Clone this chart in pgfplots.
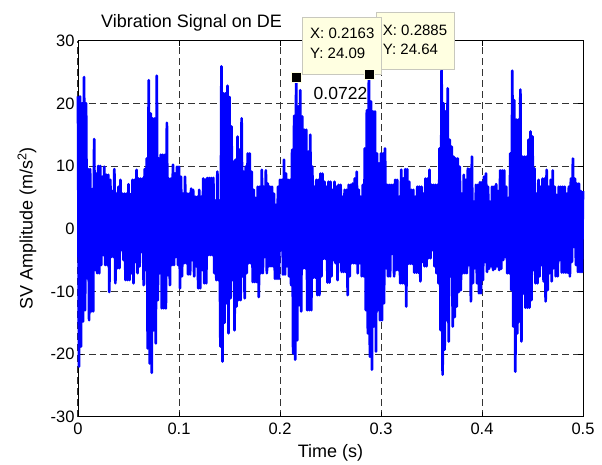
\documentclass[border=0pt]{standalone}
\usepackage{fontspec}
\setmainfont{Liberation Sans}
\usepackage{pgfplots}
\usepackage{pgfplotstable}
\pgfplotsset{compat=1.18}
\definecolor{tipbg}{RGB}{255,255,225}
\definecolor{tipedge}{RGB}{200,200,190}
\pgfplotstableread[row sep=\\]{
t v\\
0.000 21.1\\ 0.001 -22\\ 0.002 21.1\\ 0.003 -18.8\\ 0.004 20\\ 0.005 -14.8\\ 0.006 24.2\\ 0.007 -13\\ 0.008 20\\ 0.009 -7.9\\
0.010 9.5\\ 0.011 -14.6\\ 0.012 9.5\\ 0.013 -13.2\\ 0.014 6.3\\ 0.015 -13.2\\ 0.016 14.3\\ 0.017 -6.6\\ 0.018 8.8\\ 0.019 -7.1\\
0.020 10\\ 0.021 -7.1\\ 0.022 10\\ 0.023 -5.8\\ 0.024 8.3\\ 0.025 -4.2\\ 0.026 9.9\\ 0.027 -5.8\\ 0.028 8.6\\ 0.029 -5.8\\
0.030 8.6\\ 0.031 -10.1\\ 0.032 7.8\\ 0.033 -4.5\\ 0.034 6\\ 0.035 -4.5\\ 0.036 9.5\\ 0.037 -8.7\\ 0.038 5.6\\ 0.039 -6.3\\
0.040 6.7\\ 0.041 -6.3\\ 0.042 7.8\\ 0.043 -3.4\\ 0.044 5.6\\ 0.045 -5\\ 0.046 5.6\\ 0.047 -8.2\\ 0.048 5.6\\ 0.049 -8.2\\
0.050 7.1\\ 0.051 -8.2\\ 0.052 5.5\\ 0.053 -7.1\\ 0.054 7.8\\ 0.055 -8.7\\ 0.056 7.8\\ 0.057 -5.3\\ 0.058 9.4\\ 0.059 -7.1\\
0.060 8\\ 0.061 -6\\ 0.062 8\\ 0.063 -3.7\\ 0.064 8\\ 0.065 -9\\ 0.066 9.5\\ 0.067 -6.6\\ 0.068 11.2\\ 0.069 -19.1\\
0.070 23.7\\ 0.071 -21.5\\ 0.072 18.4\\ 0.073 -23\\ 0.074 17.6\\ 0.075 -16.2\\ 0.076 17.6\\ 0.077 -18.3\\ 0.078 24.4\\ 0.079 -11.4\\
0.080 11.2\\ 0.081 -7.1\\ 0.082 11.8\\ 0.083 -12.7\\ 0.084 11.8\\ 0.085 -12.7\\ 0.086 11.8\\ 0.087 -12.7\\ 0.088 16.9\\ 0.089 -7.4\\
0.090 8\\ 0.091 -9\\ 0.092 8\\ 0.093 -5.8\\ 0.094 10.2\\ 0.095 -5.8\\ 0.096 8.8\\ 0.097 -4.5\\ 0.098 9.9\\ 0.099 -5.8\\
0.100 9.9\\ 0.101 -9.5\\ 0.102 8.3\\ 0.103 -7.6\\ 0.104 5.6\\ 0.105 -5.5\\ 0.106 8.3\\ 0.107 -5.5\\ 0.108 5.6\\ 0.109 -7.3\\
0.110 5.6\\ 0.111 -7.3\\ 0.112 6.4\\ 0.113 -5\\ 0.114 6.2\\ 0.115 -7.6\\ 0.116 5.1\\ 0.117 -6\\ 0.118 5.1\\ 0.119 -9.5\\
0.120 6.2\\ 0.121 -9.5\\ 0.122 5.1\\ 0.123 -6.6\\ 0.124 8\\ 0.125 -8.7\\ 0.126 7.8\\ 0.127 -8.7\\ 0.128 8.1\\ 0.129 -4.2\\
0.130 8.1\\ 0.131 -4.2\\ 0.132 8.1\\ 0.133 -4.2\\ 0.134 8.1\\ 0.135 -7.1\\ 0.136 4.5\\ 0.137 -8.2\\ 0.138 9.1\\ 0.139 -8.2\\
0.140 4.5\\ 0.141 -18.8\\ 0.142 25.9\\ 0.143 -21.2\\ 0.144 21.6\\ 0.145 -15\\ 0.146 21.6\\ 0.147 -11.9\\ 0.148 22.8\\ 0.149 -16.7\\
0.150 21\\ 0.151 -11.1\\ 0.152 16.3\\ 0.153 -8.2\\ 0.154 10.7\\ 0.155 -16.2\\ 0.156 11\\ 0.157 -12.4\\ 0.158 14.7\\ 0.159 -11.4\\
0.160 12.6\\ 0.161 -11.4\\ 0.162 17.6\\ 0.163 -7.6\\ 0.164 9.1\\ 0.165 -11.1\\ 0.166 9.9\\ 0.167 -7.1\\ 0.168 12\\ 0.169 -5.5\\
0.170 12\\ 0.171 -5.5\\ 0.172 9.1\\ 0.173 -8.5\\ 0.174 6.2\\ 0.175 -8.5\\ 0.176 4.9\\ 0.177 -8.5\\ 0.178 6.7\\ 0.179 -10.9\\
0.180 6.7\\ 0.181 -7.1\\ 0.182 9.4\\ 0.183 -7.1\\ 0.184 6.7\\ 0.185 -4.5\\ 0.186 9.3\\ 0.187 -7.1\\ 0.188 7.2\\ 0.189 -6\\
0.190 6.7\\ 0.191 -6\\ 0.192 6.7\\ 0.193 -6\\ 0.194 5.6\\ 0.195 -8\\ 0.196 3.8\\ 0.197 -8\\ 0.198 6.7\\ 0.199 -8\\
0.200 7.8\\ 0.201 -3.4\\ 0.202 7.8\\ 0.203 -7.3\\ 0.204 11\\ 0.205 -7.3\\ 0.206 8.8\\ 0.207 -6\\ 0.208 7.8\\ 0.209 -7.6\\
0.210 7.8\\ 0.211 -9\\ 0.212 12.6\\ 0.213 -19.9\\ 0.214 18\\ 0.215 -20.9\\ 0.216 24.09\\ 0.217 -17.8\\ 0.218 19.5\\ 0.219 -12.2\\
0.220 22.1\\ 0.221 -13.2\\ 0.222 17.9\\ 0.223 -6.3\\ 0.224 15.8\\ 0.225 -6.3\\ 0.226 15.8\\ 0.227 -13\\ 0.228 12.3\\ 0.229 -13\\
0.230 15\\ 0.231 -13\\ 0.232 9.9\\ 0.233 -7.8\\ 0.234 6.7\\ 0.235 -7.8\\ 0.236 7.8\\ 0.237 -10.6\\ 0.238 7.8\\ 0.239 -10.6\\
0.240 8.8\\ 0.241 -7.6\\ 0.242 8.8\\ 0.243 -4.8\\ 0.244 7.5\\ 0.245 -4.8\\ 0.246 6.7\\ 0.247 -8.6\\ 0.248 7.5\\ 0.249 -8.6\\
0.250 7.5\\ 0.251 -7.6\\ 0.252 6.2\\ 0.253 -5\\ 0.254 7.5\\ 0.255 -5.5\\ 0.256 6.7\\ 0.257 -8.2\\ 0.258 7\\ 0.259 -5.3\\
0.260 7\\ 0.261 -6.9\\ 0.262 5.1\\ 0.263 -6.9\\ 0.264 6.2\\ 0.265 -6.9\\ 0.266 6.2\\ 0.267 -10.6\\ 0.268 7\\ 0.269 -7.6\\
0.270 7\\ 0.271 -5.5\\ 0.272 7.2\\ 0.273 -5.5\\ 0.274 8\\ 0.275 -5.5\\ 0.276 9.1\\ 0.277 -7.1\\ 0.278 6.2\\ 0.279 -5.5\\
0.280 5.1\\ 0.281 -7.6\\ 0.282 7\\ 0.283 -7.6\\ 0.284 12.8\\ 0.285 -13\\ 0.286 18.9\\ 0.287 -16.7\\ 0.288 24.64\\ 0.289 -20.4\\
0.290 20.3\\ 0.291 -22.5\\ 0.292 18.7\\ 0.293 -15.6\\ 0.294 18.7\\ 0.295 -19.6\\ 0.296 12\\ 0.297 -13\\ 0.298 10.4\\ 0.299 -14.6\\
0.300 12\\ 0.301 -14.6\\ 0.302 12\\ 0.303 -11.9\\ 0.304 12.8\\ 0.305 -6.3\\ 0.306 7\\ 0.307 -7.6\\ 0.308 7\\ 0.309 -7.6\\
0.310 7\\ 0.311 -4\\ 0.312 7\\ 0.313 -7.6\\ 0.314 7.8\\ 0.315 -6.6\\ 0.316 7.8\\ 0.317 -6.6\\ 0.318 5.1\\ 0.319 -8.7\\
0.320 9.4\\ 0.321 -8.7\\ 0.322 8\\ 0.323 -8.7\\ 0.324 9.5\\ 0.325 -12.4\\ 0.326 9.5\\ 0.327 -5.6\\ 0.328 7.5\\ 0.329 -5.6\\
0.330 6.2\\ 0.331 -5.6\\ 0.332 6.2\\ 0.333 -7\\ 0.334 5.1\\ 0.335 -7\\ 0.336 6.7\\ 0.337 -7\\ 0.338 6.7\\ 0.339 -8.4\\
0.340 6.7\\ 0.341 -5.3\\ 0.342 5.6\\ 0.343 -6\\ 0.344 8\\ 0.345 -6\\ 0.346 8\\ 0.347 -4.7\\ 0.348 9.4\\ 0.349 -4.7\\
0.350 7\\ 0.351 -3.4\\ 0.352 7\\ 0.353 -6\\ 0.354 7\\ 0.355 -7.1\\ 0.356 7\\ 0.357 -8.7\\ 0.358 12.8\\ 0.359 -16.2\\
0.360 25.3\\ 0.361 -23.3\\ 0.362 20\\ 0.363 -19.3\\ 0.364 18.7\\ 0.365 -14.6\\ 0.366 22.4\\ 0.367 -18\\ 0.368 14.2\\ 0.369 -7.6\\
0.370 13.1\\ 0.371 -15.6\\ 0.372 11.5\\ 0.373 -14.1\\ 0.374 11.2\\ 0.375 -12.4\\ 0.376 11.2\\ 0.377 -10.1\\ 0.378 9.9\\ 0.379 -9.8\\
0.380 5.6\\ 0.381 -7.1\\ 0.382 8.6\\ 0.383 -7.1\\ 0.384 7.8\\ 0.385 -7.1\\ 0.386 9.6\\ 0.387 -5.8\\ 0.388 9.5\\ 0.389 -11.6\\
0.390 11.5\\ 0.391 -8.7\\ 0.392 4.3\\ 0.393 -6.3\\ 0.394 7\\ 0.395 -8.7\\ 0.396 7\\ 0.397 -10.3\\ 0.398 7.4\\ 0.399 -10.3\\
0.400 7.4\\ 0.401 -8.2\\ 0.402 8.3\\ 0.403 -5.3\\ 0.404 8.8\\ 0.405 -6.9\\ 0.406 6.7\\ 0.407 -6.4\\ 0.408 4.3\\ 0.409 -6\\
0.410 6.7\\ 0.411 -6.6\\ 0.412 6.7\\ 0.413 -6.4\\ 0.414 7.1\\ 0.415 -6\\ 0.416 6\\ 0.417 -6.6\\ 0.418 9.3\\ 0.419 -6.4\\
0.420 9.3\\ 0.421 -5\\ 0.422 9.3\\ 0.423 -4.5\\ 0.424 6.7\\ 0.425 -7.1\\ 0.426 4.9\\ 0.427 -7.1\\ 0.428 12\\ 0.429 -9.8\\
0.430 25.2\\ 0.431 -15.6\\ 0.432 20.5\\ 0.433 -22.8\\ 0.434 17.4\\ 0.435 -16.7\\ 0.436 17.4\\ 0.437 -14.8\\ 0.438 22.2\\ 0.439 -18\\
0.440 11.5\\ 0.441 -10.3\\ 0.442 11.5\\ 0.443 -12.6\\ 0.444 11.5\\ 0.445 -12.6\\ 0.446 14.2\\ 0.447 -12.6\\ 0.448 15.5\\ 0.449 -11.4\\
0.450 14.7\\ 0.451 -6.6\\ 0.452 9.6\\ 0.453 -8.7\\ 0.454 5.6\\ 0.455 -8.7\\ 0.456 7.8\\ 0.457 -7.6\\ 0.458 6.7\\ 0.459 -5.8\\
0.460 8\\ 0.461 -8.4\\ 0.462 8\\ 0.463 -11.6\\ 0.464 9.4\\ 0.465 -9.8\\ 0.466 6.7\\ 0.467 -7.1\\ 0.468 7.8\\ 0.469 -8.4\\
0.470 9.3\\ 0.471 -6.3\\ 0.472 6.7\\ 0.473 -7.6\\ 0.474 5.4\\ 0.475 -7.6\\ 0.476 6.7\\ 0.477 -5\\ 0.478 6.7\\ 0.479 -7\\
0.480 6.7\\ 0.481 -7\\ 0.482 6.7\\ 0.483 -7\\ 0.484 5.6\\ 0.485 -7\\ 0.486 6.7\\ 0.487 -7.6\\ 0.488 8\\ 0.489 -5.3\\
0.490 11.2\\ 0.491 -2.9\\ 0.492 8\\ 0.493 -5.8\\ 0.494 7.2\\ 0.495 -6.9\\ 0.496 7.2\\ 0.497 -6.9\\ 0.498 6\\ 0.499 -6.9\\ 0.500 6\\
}\sig

\begin{document}
\begin{tikzpicture}
\useasboundingbox (0,0) rectangle (602pt,464pt);
\begin{axis}[
  at={(78pt,47.3pt)}, anchor=south west,
  scale only axis, width=505pt, height=376pt,
  xmin=0, xmax=0.5, ymin=-30, ymax=30,
  clip=false,
  xtick={0,0.1,0.2,0.3,0.4,0.5}, xticklabels={0,0.1,0.2,0.3,0.4,0.5},
  ytick={-30,-20,-10,0,10,20,30}, yticklabels={-30,-20,-10,0,10,20,30},
  grid=major,
  major grid style={black!80, line width=1pt, dash pattern=on 7pt off 4pt},
  axis line style={line width=0.9pt},
  tick style={black, line width=0.9pt}, major tick length=5pt,
  ticklabel style={font=\fontsize{16.5}{18}\selectfont},
  xticklabel style={yshift=-3pt},
  xlabel={Time (s)}, ylabel={SV Amplitude (m/s\textsuperscript{2})},
  label style={font=\fontsize{18}{20}\selectfont},
  xlabel style={at={(axis description cs:0.5,-0.097)}, anchor=center},
  ylabel style={at={(axis description cs:-0.101,0.5)}, anchor=center, rotate=0},
]
\addplot[blue, line width=2.7pt, line join=round] table[x=t, y=v] {\sig};
\addplot[only marks, mark=square*, mark size=5pt, mark options={fill=black, draw=tipbg, line width=1.2pt}] coordinates {(0.2163,24.09) (0.2885,24.64)};
\node[font=\fontsize{18}{20}\selectfont] at (axis cs:0.1124,32.87) {Vibration Signal on DE};
\node[font=\fontsize{17.5}{20}\selectfont] at (axis cs:0.2599,21.57) {0.0722};
\draw[tipedge, fill=tipbg, line width=0.8pt] (axis cs:0.2950,25.4) rectangle (axis cs:0.3723,34.5);
\node[font=\fontsize{15}{17}\selectfont, anchor=west, inner sep=0pt] at (axis cs:0.3017,31.7) {X: 0.2885};
\node[font=\fontsize{15}{17}\selectfont, anchor=west, inner sep=0pt] at (axis cs:0.3017,28.7) {Y: 24.64};
\draw[tipedge, fill=tipbg, line width=0.8pt] (axis cs:0.2225,24.7) rectangle (axis cs:0.3,33.7);
\node[font=\fontsize{15}{17}\selectfont, anchor=west, inner sep=0pt] at (axis cs:0.2297,31.2) {X: 0.2163};
\node[font=\fontsize{15}{17}\selectfont, anchor=west, inner sep=0pt] at (axis cs:0.2297,28.0) {Y: 24.09};
\end{axis}
\end{tikzpicture}
\end{document}
